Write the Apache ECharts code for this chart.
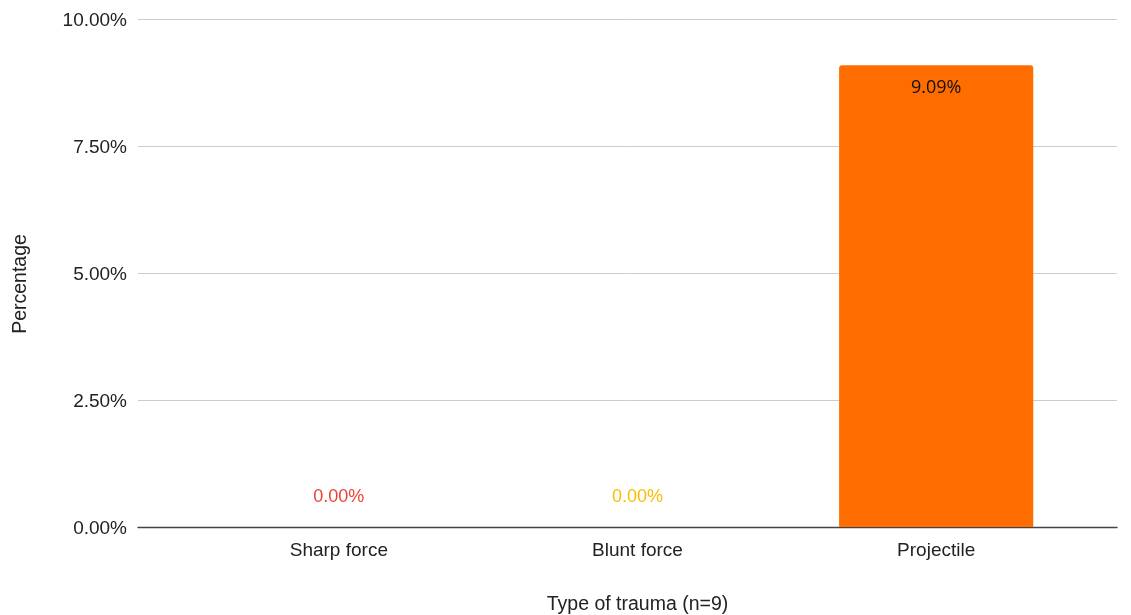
<!DOCTYPE html>
<html>
<head>
<meta charset="utf-8">
<script src="https://cdn.jsdelivr.net/npm/echarts@6/dist/echarts.min.js"></script>
<style>
  html, body { margin: 0; padding: 0; background: #ffffff; }
  #chart { width: 1131px; height: 615px; }
</style>
</head>
<body>
<div id="chart"></div>
<script>
// Share of cases by type of trauma (percent)
const categories = ['Sharp force', 'Blunt force', 'Projectile'];
const percentages = [0.00, 0.00, 9.09];
const barColors = ['#ea4335', '#fbbc04', '#ff6d01'];
const yTicks = { min: 0, max: 10, interval: 2.5 };

const fmt = v => v.toFixed(2) + '%';
const axisFont = 'Liberation Sans, Arial, sans-serif';

const chart = echarts.init(document.getElementById('chart'), null, { renderer: 'canvas' });

const seriesData = percentages.map((v, i) => ({
  value: v,
  itemStyle: { color: barColors[i], borderRadius: [3, 3, 0, 0] },
  label: v > 0
    ? { position: 'insideTop', distance: 14, color: '#111111', fontFamily: 'Open Sans, sans-serif' }
    : { position: 'top', distance: 21, color: barColors[i], fontFamily: axisFont }
}));

chart.setOption({
  animation: false,
  backgroundColor: '#ffffff',
  grid: [
    { left: 138, right: 14, top: 19, bottom: 88, outerBoundsMode: 'none', containLabel: false },
    { left: 189.5, right: 45.5, top: 19, bottom: 88, outerBoundsMode: 'none', containLabel: false }
  ],
  xAxis: [
    {
      gridIndex: 0, type: 'value', min: 0, max: 1,
      axisLine: { show: true, onZero: false, lineStyle: { color: '#444444', width: 1.3 } },
      axisTick: { show: false }, axisLabel: { show: false }, splitLine: { show: false }
    },
    {
      gridIndex: 1, type: 'category', data: categories,
      axisLine: { show: false }, axisTick: { show: false },
      axisLabel: { margin: 14, color: '#222222', fontSize: 19, fontFamily: axisFont },
      name: 'Type of trauma (n=9)', nameLocation: 'middle', nameGap: 68,
      nameTextStyle: { color: '#222222', fontSize: 19.5, fontFamily: axisFont }
    }
  ],
  yAxis: [
    {
      gridIndex: 0, type: 'value', min: yTicks.min, max: yTicks.max, interval: yTicks.interval,
      axisLine: { show: false }, axisTick: { show: false },
      axisLabel: {
        margin: 11, formatter: v => '{t|' + fmt(v) + '}',
        rich: { t: { color: '#222222', fontSize: 19, fontFamily: axisFont, padding: [4, 0, 0, 0] } }
      },
      splitLine: { show: true, lineStyle: { color: '#cccccc', width: 1 } },
      name: 'Percentage', nameLocation: 'middle', nameGap: 107, nameRotate: 90,
      nameTextStyle: { color: '#222222', fontSize: 19.5, fontFamily: axisFont, padding: [0, 22, 0, 0] }
    },
    {
      gridIndex: 1, type: 'value', min: yTicks.min, max: yTicks.max, interval: yTicks.interval,
      show: false, splitLine: { show: false }
    }
  ],
  series: [
    {
      type: 'bar', xAxisIndex: 1, yAxisIndex: 1,
      barWidth: '65%',
      data: seriesData,
      label: { show: true, fontSize: 18, formatter: p => fmt(p.value) }
    }
  ]
});
</script>
</body>
</html>
